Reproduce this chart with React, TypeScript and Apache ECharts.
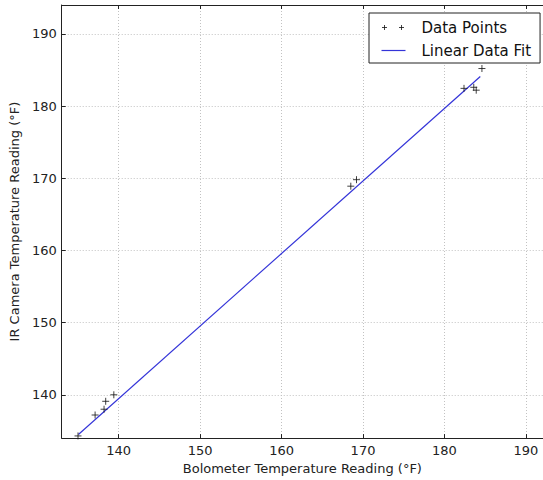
import React, { useEffect, useRef } from "react";
import * as echarts from "echarts";

const bolometer = [135.0, 137.1, 138.2, 138.4, 139.4, 168.5, 169.2, 182.4, 183.6, 183.9, 184.6];
const irCamera = [134.3, 137.2, 138.0, 139.1, 140.0, 168.9, 169.8, 182.45, 182.6, 182.2, 185.2];
const fitX = [135.05, 184.4];
const fitY = [134.5, 184.1];
const xRange = [133, 192.1];
const yRange = [134, 194];

const PLUS = "path://M0,-1L0,1M-1,0L1,0";
const PLUS2 = "path://M0,0L0,0M3,4.5L3,9.5M0.5,7L5.5,7M20,4.5L20,9.5M17.5,7L22.5,7M24,14L24,14";
const LINE_ICON = "path://M0,0L0,0M0,6.4H24V7.6H0ZM24,14L24,14";

export default function App() {
  const ref = useRef<HTMLDivElement>(null);
  useEffect(() => {
    const chart = echarts.init(ref.current!, null, { renderer: "svg" });
    const font = "DejaVu Sans";
    const lineColor = "#3434d8";
    const axisLine = { show: true, lineStyle: { color: "#222", width: 1 } };
    const tick = { show: true, inside: true, length: 4, lineStyle: { color: "#222" } };
    const grid = { show: true, lineStyle: { color: "#c2c2c2", width: 1, type: [1, 2] as any } };
    chart.setOption({
      animation: false,
      textStyle: { fontFamily: font },
      grid: { left: 61, right: -1, top: 5, bottom: 38 },
      legend: {
        orient: "vertical",
        left: 369,
        top: 13,
        padding: [5, 9, 5, 10],
        itemGap: 6,
        itemWidth: 24,
        itemHeight: 14,
        backgroundColor: "#fff",
        borderColor: "#222",
        borderWidth: 1,
        textStyle: { fontFamily: font, fontSize: 15, color: "#111", padding: [0, 0, 0, 11] },
        data: [
          { name: "Data Points", icon: PLUS2, itemStyle: { color: "none", borderColor: "#111", borderWidth: 1 } },
          { name: "Linear Data Fit", icon: LINE_ICON, itemStyle: { color: lineColor, borderWidth: 0 } },
        ],
      },
      xAxis: [
        {
          type: "value",
          min: xRange[0],
          max: xRange[1],
          name: "Bolometer Temperature Reading (°F)",
          nameLocation: "middle",
          nameGap: 20,
          nameTextStyle: { fontFamily: font, fontSize: 13, color: "#222" },
          axisLine,
          axisTick: tick,
          axisLabel: { fontFamily: font, fontSize: 13, color: "#222", margin: 6, showMinLabel: false, showMaxLabel: false },
          splitLine: grid,
        },
        {
          type: "value",
          position: "top",
          min: xRange[0],
          max: xRange[1],
          axisLine,
          axisTick: tick,
          axisLabel: { show: false },
          splitLine: { show: false },
        },
      ],
      yAxis: {
        type: "value",
        min: yRange[0],
        max: yRange[1],
        name: "IR Camera Temperature Reading (°F)",
        nameLocation: "middle",
        nameGap: 36,
        nameTextStyle: { fontFamily: font, fontSize: 13, color: "#222" },
        axisLine,
        axisTick: tick,
        axisLabel: { fontFamily: font, fontSize: 13, color: "#222", margin: 5, showMinLabel: false, showMaxLabel: false },
        splitLine: grid,
      },
      series: [
        {
          name: "Data Points",
          type: "scatter",
          symbol: PLUS,
          symbolSize: 7,
          itemStyle: { color: "none", borderColor: "#111", borderWidth: 1 },
          data: bolometer.map((x, i) => [x, irCamera[i]]),
          z: 3,
        },
        {
          name: "Linear Data Fit",
          type: "line",
          symbol: "none",
          lineStyle: { color: lineColor, width: 1.2 },
          itemStyle: { color: lineColor },
          data: fitX.map((x, i) => [x, fitY[i]]),
          z: 2,
        },
      ],
    });
    return () => chart.dispose();
  }, []);
  return <div ref={ref} style={{ position: "absolute", left: 0, top: 0, width: 543, height: 480 }} />;
}
